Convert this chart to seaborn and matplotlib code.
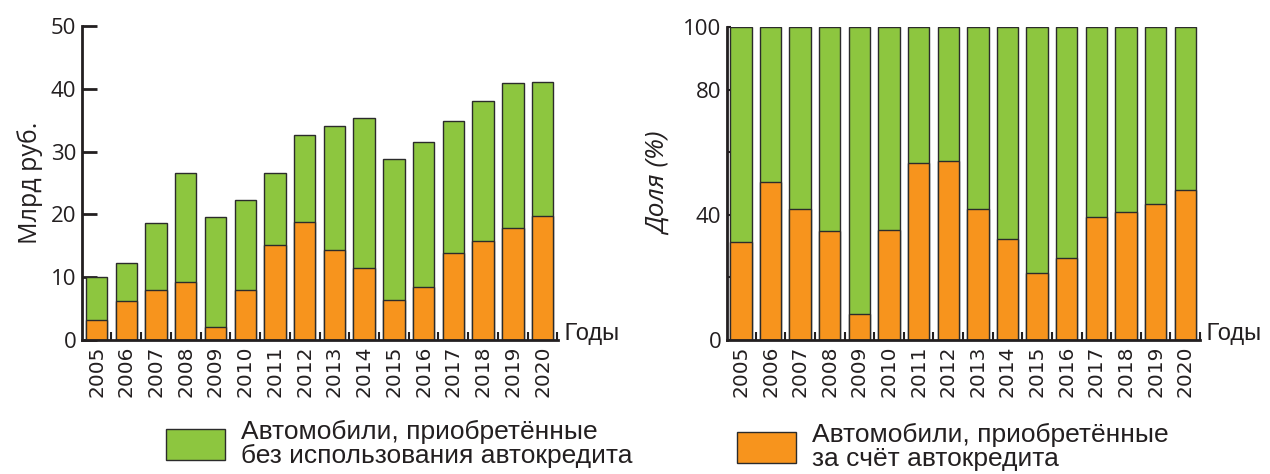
import numpy as np
import pandas as pd
import matplotlib.pyplot as plt
import matplotlib.patches as mpatches
import seaborn as sns

# Values
years = [str(y) for y in range(2005, 2021)]
total_bln = [10.0, 12.2, 18.6, 26.6, 19.6, 22.3, 26.6, 32.6, 34.1, 35.3, 28.8, 31.6, 34.9, 38.1, 40.9, 41.1]
credit_bln = [3.2, 6.2, 7.9, 9.3, 2.1, 8.0, 15.2, 18.8, 14.4, 11.5, 6.3, 8.4, 13.8, 15.7, 17.9, 19.7]
credit_share = [31.3, 50.4, 41.7, 34.8, 8.2, 35.1, 56.6, 57.2, 41.7, 32.4, 21.5, 26.2, 39.3, 41.0, 43.6, 47.8]
total_share = [100] * 16

green = "#8dc63f"
orange = "#f7941d"
edge = "#2b2b2b"
ink = "#231f20"

sns.set_style("ticks")
plt.rcParams['font.family'] = ['Open Sans', 'DejaVu Sans']
arial = ['Liberation Sans', 'DejaVu Sans']

df = pd.DataFrame({"year": years, "total": total_bln, "credit": credit_bln,
                   "share": credit_share, "all": total_share})

fig = plt.figure(figsize=(12.7, 4.74), dpi=100)
ax1 = fig.add_axes([82 / 1270, 1 - 340 / 474, 476 / 1270, 314 / 474])
ax2 = fig.add_axes([727 / 1270, 1 - 340 / 474, 473 / 1270, 313 / 474])


def draw(ax, top, bottom, ymax, xlim):
    sns.barplot(data=df, x="year", y=top, color=green, width=0.72,
                edgecolor=edge, linewidth=1, saturation=1, ax=ax)
    sns.barplot(data=df, x="year", y=bottom, color=orange, width=0.72,
                edgecolor=edge, linewidth=1, saturation=1, ax=ax)
    ax.set_xlim(*xlim)
    ax.set_ylim(0, ymax)
    sns.despine(ax=ax)
    for s in ["left", "bottom"]:
        ax.spines[s].set_linewidth(2)
        ax.spines[s].set_color(ink)
    ax.tick_params(axis="x", which="major", length=0, rotation=90, pad=4)
    for lbl in ax.get_xticklabels():
        lbl.set_fontfamily(['DejaVu Sans'])
        lbl.set_fontsize(14.5)
        lbl.set_color(ink)
    ax.set_xticks(np.arange(0.5, 15.6, 1), minor=True)
    ax.tick_params(axis="x", which="minor", direction="in", length=6, width=1.5, color=ink)
    ax.tick_params(axis="y", labelsize=16, pad=4, labelcolor=ink, color=ink)
    ax.set_xlabel("")
    ax.text(1.0, 0, " Годы", transform=ax.transAxes, fontsize=17, family=arial,
            va="baseline", ha="left", color=ink)


draw(ax1, "total", "credit", 50, (-0.49, 15.52))
ax1.set_yticks([0, 10, 20, 30, 40, 50])
ax1.tick_params(axis="y", direction="in", length=11, width=2)
ax1.set_ylabel("Млрд руб.", fontsize=18, labelpad=6, color=ink)

draw(ax2, "all", "share", 100, (-0.47, 15.44))
ax2.set_yticks([0, 20, 40, 60, 80, 100])
ax2.set_yticklabels(["0", "", "40", "", "80", "100"])
ax2.tick_params(axis="y", direction="in", length=3, width=1.5)
ax2.set_ylabel("Доля (%)", fontsize=19, style="italic", labelpad=8, color=ink)

h1 = mpatches.Patch(facecolor=green, edgecolor=edge, linewidth=1)
h2 = mpatches.Patch(facecolor=orange, edgecolor=edge, linewidth=1)
leg_font = {"family": arial, "size": 19}
legends = [
    fig.legend([h1], ["Автомобили, приобретённые\nбез использования автокредита"],
               loc="center left", bbox_to_anchor=(166 / 1270, 1 - 444 / 474), frameon=False,
               prop=leg_font, handlelength=2.23, handleheight=1.45, handletextpad=0.6,
               borderpad=0, borderaxespad=0),
    fig.legend([h2], ["Автомобили, приобретённые\nза счёт автокредита"],
               loc="center left", bbox_to_anchor=(737 / 1270, 1 - 447 / 474), frameon=False,
               prop=leg_font, handlelength=2.23, handleheight=1.45, handletextpad=0.6,
               borderpad=0, borderaxespad=0),
]
for leg in legends:
    for t in leg.get_texts():
        t.set_linespacing(0.95)
        t.set_color(ink)

fig.savefig("out.png", dpi=100)
